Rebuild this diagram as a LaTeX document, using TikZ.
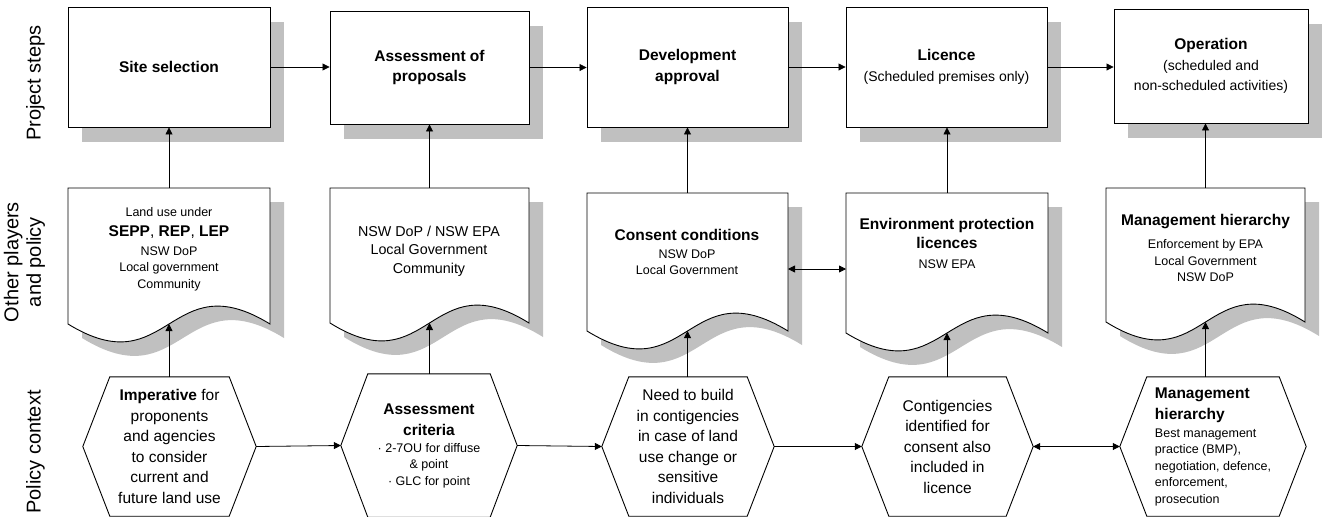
\documentclass[tikz,border=0pt]{standalone}
\usepackage{fontspec}
\setmainfont{Liberation Sans}
\usetikzlibrary{arrows.meta,shadows}
\definecolor{shadowgray}{RGB}{192,192,192}
\newcommand\bigt{\fontsize{15.5}{20.5}\selectfont}
\newcommand\subt{\fontsize{14}{20}\selectfont}
\newcommand\smallt{\fontsize{12.5}{16.5}\selectfont}
\newcommand\midt{\fontsize{14.3}{18.5}\selectfont}
\newcommand\sidet{\fontsize{20}{22.5}\selectfont}
\tikzset{
  outline/.style={draw=black, line width=0.9pt},
  stepbox/.style={outline, fill=white, rectangle, inner sep=0pt, align=center, font=\bigt,
    drop shadow={shadow xshift=14pt, shadow yshift=-15pt, fill=shadowgray, opacity=1}},
  hexnode/.style={rectangle, inner sep=0pt, align=center, font=\bigt},
  doctext/.style={inner sep=0pt, align=center, font=\smallt},
  sidelab/.style={rotate=90, align=center, font=\sidet, inner sep=0pt},
  arr/.style={line width=0.8pt, -{Triangle[length=7pt,width=7pt]}},
  darr/.style={line width=0.8pt, {Triangle[length=7pt,width=7pt]}-{Triangle[length=7pt,width=7pt]}},
}
% name, x0, x1, ytop, ybottom
\newcommand\mkdoc[5]{%
  \fill[shadowgray] ({#2+14},{#4+14}) -- ({#3+14},{#4+14}) -- ({#3+14},{#5+14})
     .. controls ({(#2+#3)/2+14},{#5+14-62}) and ({(#2+#3)/2+14},{#5+14+62}) .. ({#2+14},{#5+14}) -- cycle;
  \draw[outline, fill=white] (#2,#4) -- (#3,#4) -- (#3,#5)
     .. controls ({(#2+#3)/2},{#5-62}) and ({(#2+#3)/2},{#5+62}) .. (#2,#5) -- cycle;
  \coordinate (#1top) at ({(#2+#3)/2},#4);
  \coordinate (#1bot) at ({(#2+#3)/2},#5);
}
\newcommand\mkhex[1]{%
  \draw[outline] ([xshift=27pt]#1.north west) -- ([xshift=-27pt]#1.north east) -- (#1.east)
    -- ([xshift=-27pt]#1.south east) -- ([xshift=27pt]#1.south west) -- (#1.west) -- cycle;
}
\begin{document}
\begin{tikzpicture}[x=1pt,y=-1pt]
\useasboundingbox[fill=white] (0,0) rectangle (1326,517);

% side labels
\node[sidelab] (lab1) at (35.5,83) {Project steps};
\node[sidelab] (lab2) at (24.5,262) {Other players\\and policy};
\node[sidelab] (lab3) at (35.5,452) {Policy context};

% project steps
\node[stepbox, minimum width=202, minimum height=120] (b1) at (169,67) {\bfseries Site selection};
\node[stepbox, minimum width=199, minimum height=113] (b2) at (429.5,67.5) {\bfseries Assessment of\\\bfseries proposals};
\node[stepbox, minimum width=201, minimum height=120] (b3) at (687.5,67) {\bfseries Development\\\bfseries approval};
\node[stepbox, minimum width=201, minimum height=120] (b4) at (946.5,67) {\bfseries Licence\\{\subt (Scheduled premises only)}};
\node[stepbox, minimum width=194, minimum height=114] (b5) at (1211,66) {\bfseries Operation\\{\subt (scheduled and}\\{\subt non-scheduled activities)}};

% documents
\mkdoc{d1}{68}{270}{188}{324}
\mkdoc{d2}{330}{529}{188}{323}
\mkdoc{d3}{587}{788}{193}{331}
\mkdoc{d4}{846}{1048}{193}{333}
\mkdoc{d5}{1106}{1305}{188}{322}

\node[doctext] (d1) at (169,249) {Land use under\\[3.5pt]{\bigt\textbf{SEPP}, \textbf{REP}, \textbf{LEP}}\\[2.5pt]NSW DoP\\Local government\\Community};
\node[doctext, font=\midt] (d2) at (429,251) {NSW DoP / NSW EPA\\Local Government\\Community};
\node[doctext] (d3) at (687,252) {{\bigt\bfseries Consent conditions}\\[1.5pt]NSW DoP\\Local Government};
\node[doctext] (d4) at (947,243) {{\bigt\bfseries Environment protection}\\[2.5pt]{\bigt\bfseries licences}\\[3.5pt]NSW EPA};
\node[doctext] (d5) at (1205.5,248) {{\bigt\bfseries Management hierarchy}\\[6.5pt]Enforcement by EPA\\Local Government\\NSW DoP};

% hexagons
\node[hexnode, minimum width=173, minimum height=139] (h1) at (169.5,446.5) {\textbf{Imperative} for\\proponents\\and agencies\\to consider\\current and\\future land use};
\node[hexnode, minimum width=176, minimum height=143, font=\smallt] (h2) at (429,445.5) {{\bigt\bfseries Assessment}\\[4.5pt]{\bigt\bfseries criteria}\\[0.5pt]· 2-7OU for diffuse\\\& point\\· GLC for point};
\node[hexnode, minimum width=172, minimum height=139] (h3) at (688,446.5) {Need to build\\in contigencies\\in case of land\\use change or\\sensitive\\individuals};
\node[hexnode, minimum width=171, minimum height=139] (h4) at (947.5,446.5) {Contigencies\\identified for\\consent also\\included in\\licence};
\node[hexnode, minimum width=186, minimum height=139, align=left, font=\smallt] (h5) at (1213,446.5) {{\bigt\bfseries Management}\\[4.5pt]{\bigt\bfseries hierarchy}\\[1.5pt]Best management\\practice (BMP),\\negotiation, defence,\\enforcement,\\prosecution};
\mkhex{h1}\mkhex{h2}\mkhex{h3}\mkhex{h4}\mkhex{h5}

% connectors row 1
\draw[arr] (b1.east) -- (b1.east -| b2.west);
\draw[arr] (b2.east) -- (b2.east -| b3.west);
\draw[arr] (b3.east) -- (b3.east -| b4.west);
\draw[arr] (b4.east) -- (b4.east -| b5.west);
% documents to steps
\draw[arr] (d1top) -- (d1top |- b1.south);
\draw[arr] (d2top) -- (d2top |- b2.south);
\draw[arr] (d3top) -- (d3top |- b3.south);
\draw[arr] (d4top) -- (d4top |- b4.south);
\draw[arr] (d5top) -- (d5top |- b5.south);
% hexagons to documents
\draw[arr] (h1.north -| d1bot) -- (d1bot);
\draw[arr] (h2.north -| d2bot) -- (d2bot);
\draw[arr] (h3.north -| d3bot) -- (d3bot);
\draw[arr] (h4.north -| d4bot) -- (d4bot);
\draw[arr] (h5.north -| d5bot) -- (d5bot);
% document link
\coordinate (d3right) at (788,269);
\coordinate (d4left) at (846,269);
\draw[darr] (d3right) -- (d4left);
% hexagon row
\draw[arr] (h1.east) -- (h2.west);
\draw[arr] (h2.east) -- (h3.west);
\draw[arr] (h3.east) -- (h4.west);
\draw[darr] (h4.east) -- (h5.west);
\end{tikzpicture}
\end{document}
